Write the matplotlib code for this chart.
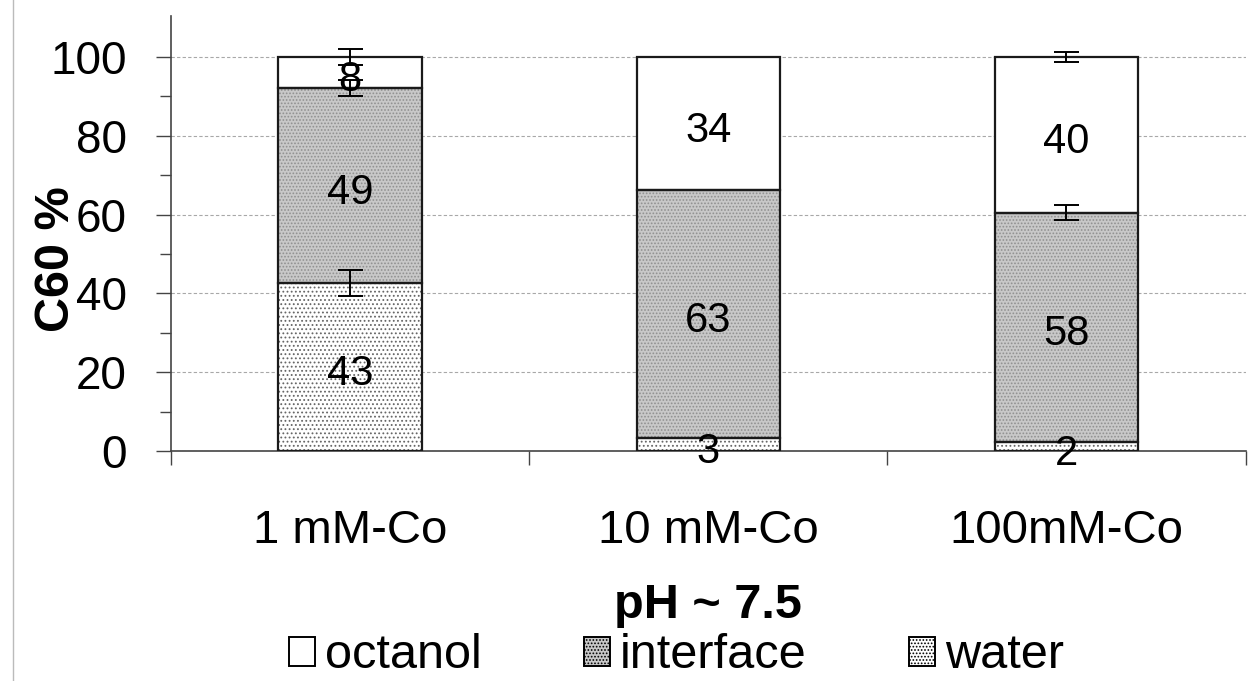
import numpy as np
import matplotlib
matplotlib.use("Agg")
import matplotlib.pyplot as plt
from matplotlib.patches import Patch
from matplotlib.lines import Line2D

plt.rcParams['font.family'] = ['Liberation Sans', 'DejaVu Sans']
plt.rcParams['hatch.linewidth'] = 0.8

categories = ["1 mM-Co", "10 mM-Co", "100mM-Co"]
water = [42.7, 3.3, 2.3]
interface = [49.4, 62.9, 58.2]
octanol = [7.9, 33.8, 39.5]
water_labels = ["43", "3", "2"]
interface_labels = ["49", "63", "58"]
octanol_labels = ["8", "34", "40"]
# error bars: (category index, value, error)
errors = [(0, 100.0, 2.0), (0, 92.1, 2.0), (0, 42.7, 3.3),
          (2, 100.0, 1.2), (2, 60.5, 1.9)]

fig = plt.figure(figsize=(12.48, 6.81), dpi=100)
ax = fig.add_axes([0.137, 0.3377, 0.861, 0.6388])

x = np.arange(len(categories))
w = 0.40
water = np.array(water)
interface = np.array(interface)
octanol = np.array(octanol)

ax.set_axisbelow(True)
ax.yaxis.grid(True, color='#a8a8a8', linestyle=(0, (3, 2)), linewidth=0.8)

layers = [
    (water, np.zeros(3), 'white', '....', '#666666'),
    (interface, water, '#c8c8c8', '.....', '#909090'),
    (octanol, water + interface, 'white', None, None),
]
for vals, base, fc, hatch, hc in layers:
    if hatch:
        ax.bar(x, vals, w, bottom=base, color=fc, hatch=hatch,
               edgecolor=hc, linewidth=0, zorder=2)
    else:
        ax.bar(x, vals, w, bottom=base, color=fc, linewidth=0, zorder=2)
    ax.bar(x, vals, w, bottom=base, facecolor='none',
           edgecolor='#1a1a1a', linewidth=1.6, zorder=3)

for i, v, e in errors:
    ax.errorbar(x[i], v, yerr=e, fmt='none', ecolor='black',
                elinewidth=1.4, capsize=9, capthick=1.4, zorder=5)

shift = 1.8  # visual nudge so digits sit centred like the original
for i in range(3):
    ax.text(x[i], water[i] / 2 - shift, water_labels[i], ha='center',
            va='center', fontsize=30, zorder=6)
    ax.text(x[i], water[i] + interface[i] / 2 - shift, interface_labels[i],
            ha='center', va='center', fontsize=30, zorder=6)
    ax.text(x[i], water[i] + interface[i] + octanol[i] / 2 - shift,
            octanol_labels[i], ha='center', va='center', fontsize=30, zorder=6)

ax.set_xlim(-0.5, 2.5)
ax.set_ylim(0, 110.4)
ax.set_yticks(np.arange(0, 101, 20))
ax.set_yticks(np.arange(10, 101, 20), minor=True)
ax.tick_params(axis='y', which='major', direction='out', length=11,
               width=1, labelsize=33, pad=21, color='#444444')
ax.tick_params(axis='y', which='minor', direction='out', length=8,
               width=1, color='#444444')

ax.set_xticks([-0.5, 0.5, 1.5, 2.5])
ax.set_xticklabels([])
ax.set_xticks(x, minor=True)
ax.set_xticklabels(categories, minor=True)
ax.tick_params(axis='x', which='major', direction='out', length=10,
               width=1, color='#444444')
ax.tick_params(axis='x', which='minor', length=0, labelsize=34, pad=42)

for s in ['top', 'right']:
    ax.spines[s].set_visible(False)
for s in ['left', 'bottom']:
    ax.spines[s].set_color('#444444')
    ax.spines[s].set_linewidth(1.2)

ax.set_ylabel("C60 %", fontsize=35, fontweight='bold')
ax.yaxis.set_label_coords(-0.086, 0.44)

fig.text(0.567, 1 - 605 / 681, "pH ~ 7.5", ha='center', va='center',
         fontsize=35, fontweight='bold')

handles = [
    Patch(facecolor='white', edgecolor='black', linewidth=1.4),
    Patch(facecolor='#c8c8c8', edgecolor='black', linewidth=1.4, hatch='.....'),
    Patch(facecolor='white', edgecolor='black', linewidth=1.4, hatch='.....'),
]
fig.legend(handles, ["octanol", "interface", "water"], ncol=3,
           loc='center', bbox_to_anchor=(0.542, 1 - 656 / 681),
           frameon=False, fontsize=35, handlelength=0.54, handleheight=0.54,
           handletextpad=0.2, columnspacing=2.1, borderpad=0)

fig.add_artist(Line2D([13 / 1248, 13 / 1248], [0, 1], color='#bbbbbb',
                      linewidth=1, transform=fig.transFigure))

fig.savefig("out.png", dpi=100)
plt.close(fig)
